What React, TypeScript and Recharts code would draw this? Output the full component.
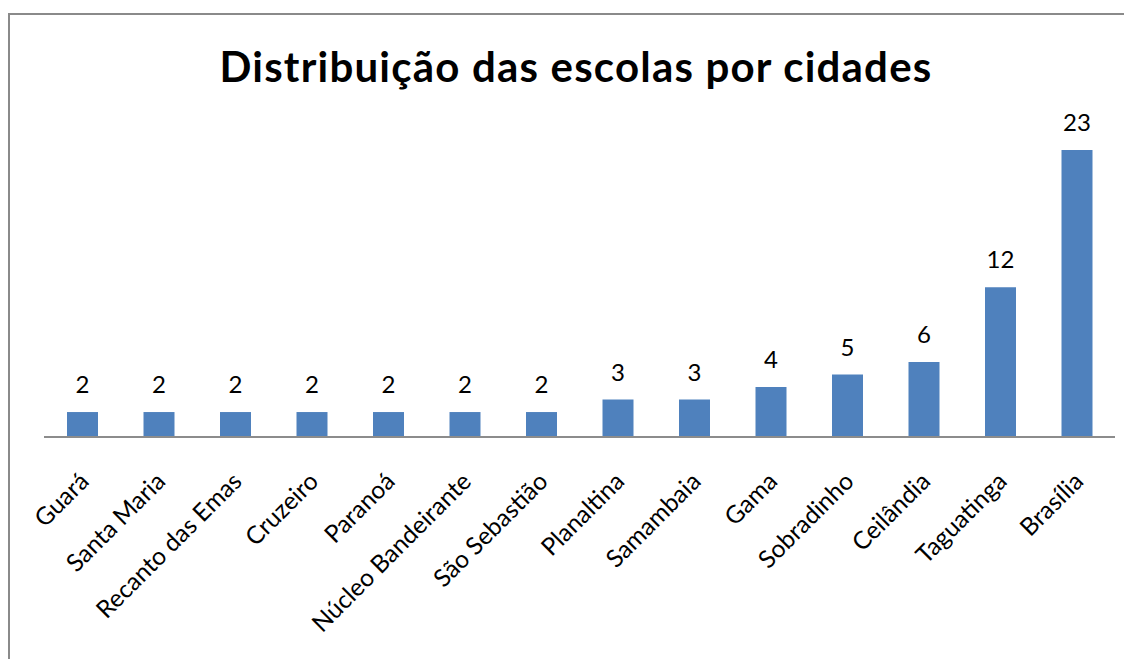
import React from "react";
import { BarChart, Bar, XAxis, YAxis, LabelList } from "recharts";

const cities = [
  "Guará",
  "Santa Maria",
  "Recanto das Emas",
  "Cruzeiro",
  "Paranoá",
  "Núcleo Bandeirante",
  "São Sebastião",
  "Planaltina",
  "Samambaia",
  "Gama",
  "Sobradinho",
  "Ceilândia",
  "Taguatinga",
  "Brasília",
];
const schools = [2, 2, 2, 2, 2, 2, 2, 3, 3, 4, 5, 6, 12, 23];
const titleText = "Distribuição das escolas por cidades";

const data = cities.map((c, i) => ({ city: c, value: schools[i] }));

const FONT = "Lato, 'Open Sans', sans-serif";

const Tick = (props: any) => {
  const { x, y, payload } = props;
  const bx = x + 8;
  const by = y + 38;
  return (
    <text
      x={bx}
      y={by}
      textAnchor="end"
      fontSize={24.5}
      fontFamily={FONT}
      fill="#000"
      transform={`rotate(-45, ${bx}, ${by})`}
    >
      {payload.value}
    </text>
  );
};

export default function App() {
  return (
    <div style={{ position: "relative", width: 1124, height: 651, overflow: "hidden" }}>
      <div
        style={{
          position: "absolute",
          left: 0,
          top: 5,
          width: 1200,
          height: 800,
          border: "2px solid #8a8a8a",
          boxSizing: "border-box",
        }}
      />
      <div
        style={{
          position: "absolute",
          left: 0,
          width: 1136,
          top: 33,
          textAlign: "center",
          fontFamily: FONT,
          fontWeight: "bold",
          fontSize: 42,
          letterSpacing: 1.2,
          lineHeight: "50px",
          color: "#000",
        }}
      >
        {titleText}
      </div>
      <div style={{ position: "absolute", left: 0, top: 0 }}>
        <BarChart
          width={1124}
          height={651}
          data={data}
          margin={{ top: 117, right: 17, bottom: 0, left: 36 }}
        >
          <XAxis
            dataKey="city"
            interval={0}
            tickLine={false}
            axisLine={{ stroke: "#8c8c8c", strokeWidth: 2 }}
            height={222}
            tick={<Tick />}
          />
          <YAxis hide domain={[0, 25]} />
          <Bar dataKey="value" fill="#4F81BD" barSize={31} isAnimationActive={false}>
            <LabelList
              dataKey="value"
              position="top"
              offset={19}
              fontSize={24}
              fontFamily={FONT}
              fill="#000"
            />
          </Bar>
        </BarChart>
      </div>
    </div>
  );
}
